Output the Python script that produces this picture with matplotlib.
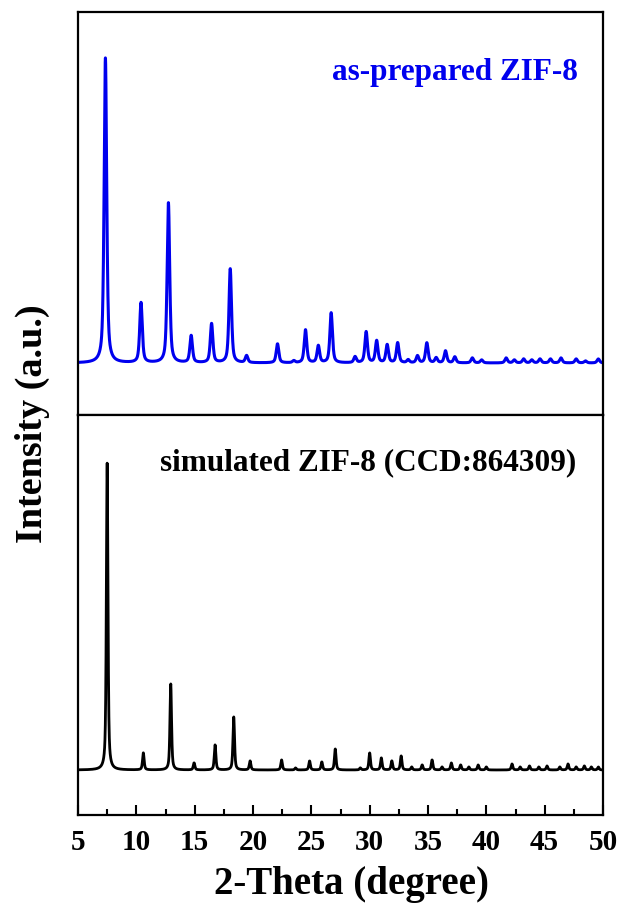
import numpy as np
import matplotlib
matplotlib.use("Agg")
import matplotlib.pyplot as plt
from matplotlib.ticker import MultipleLocator

plt.rcParams["font.family"] = ["Liberation Serif", "DejaVu Serif"]
plt.rcParams["font.weight"] = "bold"

# peak positions (2-theta) and heights
prep_pos = [7.35, 10.4, 12.75, 14.7, 16.45, 18.05, 19.45, 22.1, 23.5, 24.5, 25.6, 26.7,
            28.75, 29.7, 30.6, 31.5, 32.4, 33.3, 34.1, 34.9, 35.7, 36.5, 37.3, 38.8,
            39.6, 41.7, 42.4, 43.2, 43.9, 44.6, 45.5, 46.4, 47.7, 48.5, 49.6]
prep_int = [305, 60, 160, 27, 39, 94, 7, 19, 2, 33, 17, 50,
            6, 31, 22, 18, 20, 3, 7, 20, 5, 12, 6, 5,
            3, 5, 3, 4, 3, 4, 4, 5, 4, 2, 4]

sim_pos = [7.5, 10.6, 12.95, 14.95, 16.75, 18.35, 19.75, 22.45, 23.65, 24.85, 25.9, 27.05,
           29.2, 30.0, 31.0, 31.9, 32.7, 33.6, 34.5, 35.35, 36.2, 37.0, 37.8, 38.5,
           39.3, 40.0, 42.2, 42.9, 43.7, 44.5, 45.2, 46.3, 47.0, 47.7, 48.4, 49.0, 49.6]
sim_int = [307, 17, 86, 7, 25, 53, 9, 10, 2, 9, 8, 21,
           2, 17, 12, 9, 14, 3, 5, 10, 3, 7, 5, 3,
           5, 3, 6, 3, 4, 3, 4, 3, 6, 3, 4, 3, 3]


def pattern(x, pos, amp, w):
    y = np.zeros_like(x)
    for p, a in zip(pos, amp):
        y += a * (0.6 / (1 + ((x - p) / w) ** 2) + 0.4 * np.exp(-np.log(2) * ((x - p) / w) ** 2))
    return y


x = np.linspace(5, 50, 6000)
y_prep = pattern(x, prep_pos, prep_int, 0.13)
y_sim = pattern(x, sim_pos, sim_int, 0.08)

W, H = 622, 908
fig = plt.figure(figsize=(W / 100, H / 100), dpi=100)
ax1 = fig.add_axes([78 / W, (H - 415) / H, (603 - 78) / W, (415 - 12) / H])
ax2 = fig.add_axes([78 / W, (H - 815) / H, (603 - 78) / W, (815 - 415) / H], sharex=ax1)

ax1.plot(x, y_prep, color="#0000ee", lw=2.2)
ax2.plot(x, y_sim, color="black", lw=2.0)

ax1.set_ylim(-52, 351)
ax2.set_ylim(-45, 355)
ax1.set_xlim(5, 50)

for ax in (ax1, ax2):
    for s in ax.spines.values():
        s.set_linewidth(1.6)
    ax.set_yticks([])

ax1.tick_params(axis="x", which="both", bottom=False, labelbottom=False)
ax2.xaxis.set_major_locator(MultipleLocator(5))
ax2.xaxis.set_minor_locator(MultipleLocator(2.5))
ax2.tick_params(axis="x", which="major", direction="in", length=7, width=1.5, labelsize=21, pad=10)
ax2.tick_params(axis="x", which="minor", direction="in", length=4, width=1.5)

ax1.text(0.952, 0.851, "as-prepared ZIF-8", transform=ax1.transAxes, ha="right", va="center",
         color="#0000ee", fontsize=22.5, fontweight="bold")
ax2.text(0.95, 0.88, "simulated ZIF-8 (CCD:864309)", transform=ax2.transAxes, ha="right",
         va="center", color="black", fontsize=22.5, fontweight="bold")

fig.text(352 / W, (H - 894) / H, "2-Theta (degree)", ha="center", va="baseline",
         fontsize=28, fontweight="bold")
fig.text(32 / W, (H - 424) / H, "Intensity (a.u.)", rotation=90, ha="center", va="center",
         fontsize=27.5, fontweight="bold")

fig.savefig("out.png", dpi=100)
